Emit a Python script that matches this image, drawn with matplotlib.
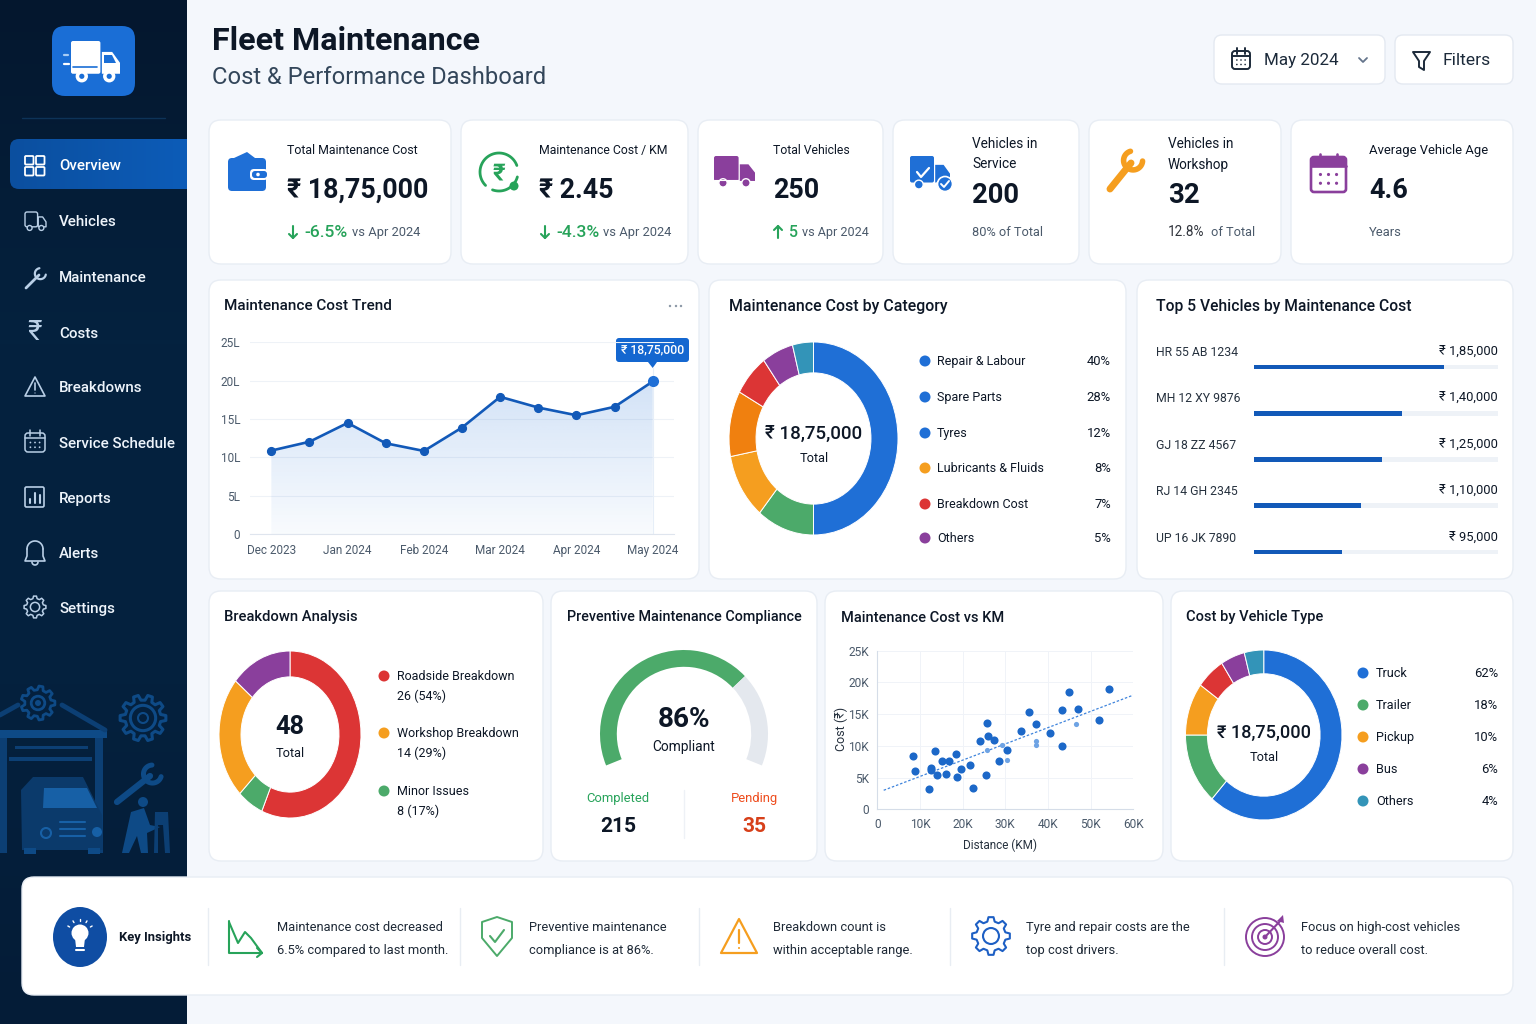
import numpy as np
import matplotlib
matplotlib.use('Agg')
import matplotlib.pyplot as plt
from matplotlib.colors import LinearSegmentedColormap
from matplotlib.patches import FancyBboxPatch, Circle, Polygon, Ellipse, Rectangle

plt.rcParams['font.family'] = ['Roboto', 'DejaVu Sans']

W, H = 1536, 1024

# colours
NAVY = '#04203d'
BLUE = '#1f6fd6'
DBLUE = '#1259b8'
GREEN = '#4caa6a'
LGREEN = '#27a35a'
ORANGE = '#f59e1f'
DORANGE = '#f0800f'
RED = '#dc3535'
PURPLE = '#8a3f9c'
TEAL = '#3394b8'
INK = '#0d1726'
GREY = '#4b5a6b'

# sidebar
menu_items = ['Overview', 'Vehicles', 'Maintenance', 'Costs', 'Breakdowns',
              'Service Schedule', 'Reports', 'Alerts', 'Settings']

# trend chart (lakh)
trend_values = [10.9, 12.05, 14.5, 11.85, 10.85, 13.9, 17.9, 16.5, 15.5, 16.6, 19.9]
trend_months = ['Dec 2023', 'Jan 2024', 'Feb 2024', 'Mar 2024', 'Apr 2024', 'May 2024']
trend_yticks = [0, 5, 10, 15, 20, 25]
trend_ylabels = ['0', '5L', '10L', '15L', '20L', '25L']

# category donut, the slices as drawn and the legend as printed
category_slices = [50, 11, 11, 11, 7, 6, 4]
category_names = ['Repair & Labour', 'Spare Parts', 'Tyres', 'Lubricants & Fluids', 'Breakdown Cost', 'Others']
category_pcts = ['40%', '28%', '12%', '8%', '7%', '5%']

# top 5 vehicles
top_names = ['HR 55 AB 1234', 'MH 12 XY 9876', 'GJ 18 ZZ 4567', 'RJ 14 GH 2345', 'UP 16 JK 7890']
top_labels = ['₹ 1,85,000', '₹ 1,40,000', '₹ 1,25,000', '₹ 1,10,000', '₹ 95,000']
top_bars = [185000, 144000, 124000, 104000, 85000]

# breakdown donut
breakdown_slices = [56.5, 6, 23.6, 13.9]
breakdown_names = ['Roadside Breakdown', 'Workshop Breakdown', 'Minor Issues']
breakdown_counts = ['26 (54%)', '14 (29%)', '8 (17%)']

# gauge, in degrees of sweep as drawn: done, pending, hidden part
gauge_sweep = [158.5, 65.5, 136]

# scatter (thousands)
km = [8.3, 8.75, 12.1, 12.6, 12.5, 13.5, 13.9, 15.1, 16.1, 16.7, 18.5, 18.6, 19.7, 21.8, 22.4, 24.0,
      25.5, 25.7, 25.9, 27.3, 28.6, 30.5, 33.6, 35.5, 37.2, 40.5, 43.2, 43.4, 44.9, 47.0, 52.0, 54.2]
cost = [8.4, 6.1, 3.15, 6.5, 6.15, 9.15, 5.45, 7.55, 5.6, 7.55, 8.7, 5.15, 6.4, 7.05, 3.3, 10.8,
        5.4, 13.6, 11.55, 10.9, 7.6, 9.3, 12.35, 15.4, 13.4, 12.0, 10.0, 15.6, 18.5, 15.85, 14.0, 18.9]
km_faded = [30.3, 37.3, 37.3, 46.6, 25.7, 29.2]
cost_faded = [7.8, 10.75, 10.2, 13.45, 9.35, 10.2]
fit_km = [1.5, 60]
fit_cost = [3, 18]

# vehicle type donut
type_slices = [61.5, 13.5, 10, 6, 5, 4]
type_names = ['Truck', 'Trailer', 'Pickup', 'Bus', 'Others']
type_pcts = ['62%', '18%', '10%', '6%', '4%']

# insights
insights = [('Maintenance cost decreased', '6.5% compared to last month.'),
            ('Preventive maintenance', 'compliance is at 86%.'),
            ('Breakdown count is', 'within acceptable range.'),
            ('Tyre and repair costs are the', 'top cost drivers.'),
            ('Focus on high-cost vehicles', 'to reduce overall cost.')]

fig = plt.figure(figsize=(W / 100, H / 100), dpi=100, facecolor='#f4f7fc')
bg = fig.add_axes([0, 0, 1, 1], zorder=0)
bg.axis('off')


def T(x, y, s, px=14, c=INK, w='normal', ha='left', **kw):
    return bg.text(x, y + 1.5, s, fontsize=px * 0.72, color=c, fontweight=w, ha=ha, va='center', **kw)


def RR(x0, y0, x1, y1, r=10, fc='white', ec='none', lw=1.0, z=1):
    p = FancyBboxPatch((x0, y0), x1 - x0, y1 - y0, boxstyle=f'round,pad=0,rounding_size={r}',
                       fc=fc, ec=ec, lw=lw, zorder=z)
    bg.add_patch(p)
    return p


def L(xs, ys, c, lw=1.5, z=3):
    bg.plot(xs, ys, color=c, lw=lw, solid_capstyle='round', solid_joinstyle='round', zorder=z)


def P(pts, fc='none', ec='none', lw=1.0, z=3):
    bg.add_patch(Polygon(pts, closed=True, fc=fc, ec=ec, lw=lw, zorder=z, joinstyle='round'))


def C(x, y, r, fc='none', ec='none', lw=1.0, z=3):
    bg.add_patch(Circle((x, y), r, fc=fc, ec=ec, lw=lw, zorder=z))


def arc(cx, cy, r, a0, a1, c, lw=1.5, z=3):
    t = np.radians(np.linspace(a0, a1, 40))
    L(cx + r * np.cos(t), cy - r * np.sin(t), c, lw, z)


def gear(cx, cy, r, teeth, c, lw=1.3, hole=0.45, fc='none', z=3):
    pts = []
    step = 2 * np.pi / teeth
    for i in range(teeth):
        a = i * step
        for da, rr in [(-0.32, 0.78), (-0.17, 1.0), (0.17, 1.0), (0.32, 0.78)]:
            pts.append((cx + r * rr * np.cos(a + da * step), cy + r * rr * np.sin(a + da * step)))
    P(pts, fc=fc, ec=c, lw=lw, z=z)
    C(cx, cy, r * hole, ec=c, lw=lw, z=z)


def truck(x, y, w, h, fc='none', ec='none', lw=1.0, wheel='white', z=3):
    RR(x, y, x + 0.6 * w, y + 0.78 * h, r=2, fc=fc, ec=ec, lw=lw, z=z)
    P([(x + 0.63 * w, y + 0.26 * h), (x + 0.84 * w, y + 0.26 * h), (x + w, y + 0.52 * h),
       (x + w, y + 0.78 * h), (x + 0.63 * w, y + 0.78 * h)], fc=fc, ec=ec, lw=lw, z=z)
    for wx in (0.22, 0.78):
        C(x + wx * w, y + 0.84 * h, 0.13 * h, fc=wheel, ec='white' if ec == 'none' else ec, lw=max(lw, 1.0), z=z + 1)


def calendar(x0, y0, x1, y1, c, lw=1.3):
    RR(x0, y0, x1, y1, r=3, fc='none', ec=c, lw=lw, z=3)
    head = y0 + (y1 - y0) * 0.27
    L([x0, x1], [head, head], c, lw)
    w = x1 - x0
    for f in (0.27, 0.73):
        L([x0 + f * w] * 2, [y0 - 3, y0 + 3], c, lw)
    for fy in (0.5, 0.75):
        for fx in (0.27, 0.5, 0.73):
            C(x0 + fx * w, y0 + fy * (y1 - y0), w * 0.045, fc=c, z=3)


def wrench(x0, y0, x1, y1, c, lw, head_r, z=3):
    L([x0, x1], [y0, y1], c, lw, z)
    a = np.degrees(np.arctan2(y0 - y1, x1 - x0))
    arc(x1 + 0.35 * head_r * np.cos(np.radians(a)), y1 - 0.35 * head_r * np.sin(np.radians(a)),
        head_r, a + 55, a + 305, c, lw * 0.8, z)


def axbox(x0, y0, x1, y1):
    ax = fig.add_axes([x0 / W, 1 - y1 / H, (x1 - x0) / W, (y1 - y0) / H], zorder=2)
    ax.patch.set_alpha(0)
    return ax


def donut(x0, y0, x1, y1, vals, colors, ring, edge='white'):
    ax = axbox(x0, y0, x1, y1)
    ax.pie(vals, colors=colors, startangle=90, counterclock=False, radius=1,
           wedgeprops=dict(width=ring, edgecolor=edge, linewidth=0.7))
    ax.set_aspect('auto')
    ax.set_xlim(-1, 1)
    ax.set_ylim(-1, 1)
    return ax


# ---- sidebar ----
grad = np.linspace(0, 1, 256).reshape(-1, 1)
bg.imshow(grad, extent=[0, 187, 1024, 0], aspect='auto', zorder=0.5,
          cmap=LinearSegmentedColormap.from_list('side', ['#04172e', '#04223f', '#04213e', '#041c37']))
L([22, 165], [118, 118], '#0d3358', 1.0)

RR(52, 26, 135, 96, r=13, fc='#1a6ed6', z=2)
truck(71, 41, 49, 42, fc='white', wheel='white')
C(81.8, 76.3, 2.6, fc='#1a6ed6', z=6)
C(109.2, 76.3, 2.6, fc='#1a6ed6', z=6)
L([73, 97], [67, 67], '#1a6ed6', 1.2, 5)
L([64, 68], [55, 55], '#a8ccf4', 1.6)
L([64, 69], [64, 64], 'white', 1.6)
P([(104, 55), (112, 55), (116, 63), (104, 63)], fc='#1a6ed6', z=5)

clip = RR(10, 139, 215, 189, r=9, fc='none', z=0.6)
im = bg.imshow(np.linspace(0, 1, 256).reshape(1, -1), extent=[10, 187, 189, 139], aspect='auto', zorder=0.8,
               cmap=LinearSegmentedColormap.from_list('act', ['#0b4f9f', '#0d5cb8']))
im.set_clip_path(clip)
for ix, iy in [(25, 156), (36, 156), (25, 167), (36, 167)]:
    RR(ix, iy, ix + 8.5, iy + 8.5, r=1, fc='none', ec='white', lw=1.3, z=3)

menu_y = [165, 221, 277, 332, 387, 442, 497, 552, 607]
for name, y in zip(menu_items, menu_y):
    T(59, y, name, 15.1, '#eef4fb' if name != 'Overview' else 'white', 'medium')
ICON = '#b9cfe6'
truck(25, 212, 21, 19, ec=ICON, lw=1.0, wheel=NAVY)
wrench(26, 288, 39, 275, ICON, 2.0, 5.5)
T(35, 331, '₹', 28, ICON, ha='center')
P([(35, 377), (45, 396), (25, 396)], ec=ICON, lw=1.2)
L([35, 35], [383, 390], ICON, 1.2)
C(35, 393, 0.6, fc=ICON)
calendar(25, 433, 45, 452, ICON, 1.1)
RR(25, 487, 44, 507, r=1.5, fc='none', ec=ICON, lw=1.2, z=3)
for bx, b0 in [(30, 499), (35, 493), (40, 495)]:
    L([bx, bx], [b0, 503], ICON, 1.5)
arc(35, 549, 8, 0, 180, ICON, 1.2)
L([27, 27, 25, 45, 43, 43], [549, 556, 561, 561, 556, 549], ICON, 1.2)
arc(35, 562, 3, 180, 360, ICON, 1.2)
gear(35, 607, 11, 8, ICON, 1.1, 0.42)

# garage illustration
ILL = '#0e4a86'
ILL2 = '#0c3f74'
ILL3 = '#1760a6'
L([0, 18], [715, 705], ILL2, 3.5)
L([62, 105], [705, 730], ILL2, 3.5)
bg.add_patch(Rectangle((0, 730), 107, 8, fc=ILL, zorder=2))
bg.add_patch(Rectangle((95, 738), 8, 115, fc=ILL2, zorder=2))
bg.add_patch(Rectangle((0, 738), 7, 115, fc=ILL2, zorder=2))
bg.add_patch(Rectangle((15, 746), 73, 3, fc=ILL2, zorder=2))
bg.add_patch(Rectangle((9, 757), 83, 4, fc=ILL2, zorder=2))
gear(38, 703, 17, 9, ILL, 2.0, 0.4, fc=NAVY)
C(38, 703, 3, fc=ILL)
gear(143, 718, 23, 10, ILL, 2.2, 0.55)
C(143, 718, 5, ec=ILL, lw=1.5)
P([(33, 777), (83, 777), (102, 815), (103, 850), (22, 850), (21, 790)], fc='#0b3a6b', z=3)
P([(44, 788), (87, 788), (97, 808), (43, 808)], fc=ILL3, z=4)
for gy in (822, 829, 836):
    L([60, 85], [gy, gy], ILL3, 1.5, 4)
C(46, 833, 5, ec=ILL3, lw=1.5, z=4)
C(97, 832, 5, fc=ILL3, z=4)
bg.add_patch(Rectangle((24, 848), 12, 6, fc=ILL, zorder=4))
bg.add_patch(Rectangle((88, 848), 12, 6, fc=ILL, zorder=4))
wrench(117, 802, 150, 776, ILL, 4.5, 9)
C(143, 802, 5, fc=ILL)
P([(131, 812), (144, 808), (150, 825), (160, 827), (147, 833), (148, 853), (141, 853), (137, 836), (129, 853),
   (122, 853)], fc=ILL)
P([(155, 812), (168, 812), (170, 853), (165, 853), (163, 825), (158, 825), (158, 853), (154, 853)], fc=ILL2)

# ---- header ----
T(212, 39, 'Fleet Maintenance', 32.3, INK, 'bold')
T(212, 76, 'Cost & Performance Dashboard', 23.7, '#33465a')
RR(1214, 35, 1385, 84, r=8, ec='#e4e9f1')
RR(1395, 35, 1513, 84, r=8, ec='#e4e9f1')
calendar(1232, 51, 1250, 69, '#1c2a3a', 1.4)
T(1264, 59, 'May 2024', 17, '#1c2a3a')
L([1359, 1363, 1367], [58, 62, 58], '#64748b', 1.3)
P([(1413, 52), (1430, 52), (1424, 61), (1424, 70), (1419, 67), (1419, 61)], ec='#1c2a3a', lw=1.4)
T(1443, 59, 'Filters', 17.5, '#1c2a3a')

# ---- cards ----
cards = [(209, 120, 451, 264), (461, 120, 688, 264), (698, 120, 883, 264), (893, 120, 1079, 264),
         (1089, 120, 1281, 264), (1291, 120, 1513, 264), (209, 280, 699, 579), (709, 280, 1126, 579),
         (1137, 280, 1513, 579), (209, 591, 543, 861), (551, 591, 817, 861), (825, 591, 1163, 861),
         (1171, 591, 1513, 861), (22, 877, 1513, 995)]
for c in cards:
    RR(*c, r=12, ec='#e8edf4', lw=1.0)


# ---- kpi ----
def arrow(x, y0, y1, c=LGREEN):
    L([x, x], [y0, y1], c, 1.5)
    d = 4 if y1 > y0 else -4
    L([x - 4, x, x + 4], [y1 - d, y1, y1 - d], c, 1.5)


T(287, 149, 'Total Maintenance Cost', 12.4)
T(287, 189, '₹ 18,75,000', 26.8, INK, 'bold')
arrow(293, 226, 238)
T(304, 231, '-6.5%', 17.5, LGREEN, 'medium')
T(352, 231, 'vs Apr 2024', 12.9, GREY)
RR(228, 158, 266, 191, r=4, fc=BLUE)
P([(234, 158), (247, 152), (255, 158)], fc=BLUE)
RR(250, 169, 268, 180, r=4, fc='white')
RR(252, 171, 267, 178, r=3, fc=BLUE, z=4)
C(258, 174.5, 1.8, fc='white', z=5)

T(539, 149, 'Maintenance Cost / KM', 12.2)
T(539, 189, '₹ 2.45', 26.8, INK, 'bold')
arrow(545, 226, 238)
T(556, 231, '-4.3%', 17.5, LGREEN, 'medium')
T(603, 231, 'vs Apr 2024', 12.9, GREY)
arc(499, 172, 19, 20, 225, LGREEN, 2.0)
arc(499, 172, 19, 250, 345, LGREEN, 2.0)
T(499, 171, '₹', 24, LGREEN, 'bold', ha='center')
C(514, 186, 4.5, fc=LGREEN)

T(773, 149, 'Total Vehicles', 12.2)
T(773, 189, '250', 27, INK, 'bold')
arrow(778, 238, 226)
T(789, 231, '5', 16, LGREEN, 'medium')
T(802, 231, 'vs Apr 2024', 12.6, GREY)
truck(714, 156, 41, 32, fc=PURPLE, wheel=PURPLE)
L([714, 738], [180, 180], 'white', 0.8, 5)

T(972, 143, 'Vehicles in', 13.6)
T(972, 163, 'Service', 13.6)
T(972, 194, '200', 27.5, INK, 'bold')
T(972, 231, '80% of Total', 12.8, GREY)
truck(910, 156, 40, 34, fc=BLUE, wheel=BLUE)
L([917, 921, 929], [172, 177, 168], 'white', 1.6, 5)
C(945, 184, 7.5, fc=BLUE, ec='white', lw=1.2, z=5)
L([941, 944, 949], [184, 187, 181], 'white', 1.4, 6)

T(1168, 143, 'Vehicles in', 13.6)
T(1168, 163, 'Workshop', 13.6)
T(1168, 194, '32', 27.5, INK, 'bold')
T(1168, 231, '12.8%', 13.5, '#30343c')
T(1211, 231, 'of Total', 12.8, GREY)
wrench(1110, 189, 1131, 163, ORANGE, 5.0, 9.5)

T(1369, 149, 'Average Vehicle Age', 13)
T(1369, 189, '4.6', 27, INK, 'bold')
T(1369, 231, 'Years', 13, GREY)
calendar(1311, 157, 1346, 192, PURPLE, 1.9)
bg.add_patch(Rectangle((1311, 157), 35, 9, fc=PURPLE, zorder=3))

# ---- trend ----
T(224, 305, 'Maintenance Cost Trend', 15.2, INK, 'medium')
for dx in (670, 676, 681):
    C(dx, 306, 1.2, fc='#8b97a6')
ax = axbox(250, 342.3, 673.7, 534.3)
x_idx = np.arange(len(trend_values))
ax.set_xlim(-0.56, 10.55)
ax.set_ylim(0, 25)
poly = ax.fill_between(x_idx, trend_values, 0, facecolor='none', edgecolor='none')
shade = np.zeros((256, 2, 4))
shade[..., :3] = matplotlib.colors.to_rgb(BLUE)
shade[..., 3] = np.linspace(0.2, 0.03, 256).reshape(-1, 1)
grad_im = ax.imshow(shade, extent=[x_idx[0], x_idx[-1], 0, 20], aspect='auto', zorder=1)
grad_im.set_clip_path(poly.get_paths()[0], ax.transData)
ax.set_xlim(-0.56, 10.55)
ax.set_ylim(0, 25)
ax.plot(x_idx, trend_values, color=DBLUE, lw=1.9, marker='o', ms=5.6, mec=DBLUE, zorder=4, clip_on=False)
ax.plot(x_idx[-1], trend_values[-1], marker='o', ms=7, color=BLUE, zorder=5, clip_on=False)
ax.axvline(x_idx[-1], color='#e6eef8', lw=0.8, zorder=1, ymax=0.87)
ax.set_yticks(trend_yticks, trend_ylabels)
ax.set_xticks(x_idx[::2], trend_months)
ax.grid(axis='y', color='#eef2f7', lw=0.8)
ax.set_axisbelow(True)
ax.tick_params(length=0, labelsize=8.5, labelcolor=GREY, pad=7)
for s in ax.spines.values():
    s.set_visible(False)
ax.spines['bottom'].set_visible(True)
ax.spines['bottom'].set_color('#dfe5ee')
RR(616, 338, 689, 362, r=3, fc='#1467d0', z=4)
P([(648, 362), (657, 362), (652.7, 368)], fc='#1467d0', z=4)
T(652.5, 348.5, '₹ 18,75,000', 12.2, 'white', 'medium', ha='center', zorder=5)

# ---- category ----
T(729, 305, 'Maintenance Cost by Category', 15.9, INK, 'medium')
donut(729, 342, 898, 535, category_slices, [BLUE, GREEN, ORANGE, DORANGE, RED, PURPLE, TEAL], 0.32)
T(813.5, 432, '₹ 18,75,000', 18.8, INK, 'medium', ha='center')
T(814, 457, 'Total', 12.8, INK, ha='center')
cat_colors = [BLUE, BLUE, BLUE, ORANGE, RED, PURPLE]
for name, pct, col, y in zip(category_names, category_pcts, cat_colors, [361, 397, 433, 468, 504, 538]):
    C(925, y, 5.5, fc=col)
    T(937, y - 1, name, 12.5)
    T(1111, y - 1, pct, 13, ha='right')

# ---- top 5 ----
T(1156, 305, 'Top 5 Vehicles by Maintenance Cost', 15.6, INK, 'medium')
for name, lab, y in zip(top_names, top_labels, [352, 398, 445, 491, 538]):
    T(1156, y - 1, name, 12.2, '#27323f')
    T(1498, y - 1, lab, 13, INK, ha='right')
ax = axbox(1254, 344, 1498, 575)
rows = np.arange(len(top_bars))
ax.barh(rows, [237000] * len(rows), height=0.1, color='#eef2f7')
ax.barh(rows, top_bars, height=0.1, color=DBLUE)
ax.set_xlim(0, 237000)
ax.set_ylim(4.5, -0.5)
ax.axis('off')

# ---- breakdown ----
T(224, 616, 'Breakdown Analysis', 14.7, INK, 'medium')
donut(219, 651, 361, 818, breakdown_slices, [RED, GREEN, ORANGE, PURPLE], 0.31)
T(290, 725, '48', 25.5, INK, 'bold', ha='center')
T(290, 752, 'Total', 12.8, INK, ha='center')
for name, cnt, col, y in zip(breakdown_names, breakdown_counts, [RED, ORANGE, GREEN], [676, 733, 791]):
    C(384, y, 5.5, fc=col)
    T(397, y - 1, name, 12.5)
    T(397, y + 18.5, cnt, 12.5)

# ---- gauge ----
T(567, 616, 'Preventive Maintenance Compliance', 14.4, INK, 'medium')
ax = axbox(600, 650, 768, 818)
ax.pie(gauge_sweep, colors=[GREEN, '#e4e8ee', 'none'], startangle=202, counterclock=False, radius=1,
       wedgeprops=dict(width=0.2))
ax.set_xlim(-1, 1)
ax.set_ylim(-1, 1)
T(684, 718, '86%', 28, INK, 'bold', ha='center')
T(684, 746, 'Compliant', 13.7, INK, ha='center')
T(618, 797, 'Completed', 13, LGREEN, ha='center')
T(618, 825, '215', 21, INK, 'bold', ha='center')
T(754, 797, 'Pending', 13, '#ee4b1c', ha='center')
T(754, 825, '35', 21, '#d7401a', 'bold', ha='center')
L([684, 684], [790, 838], '#eef1f6', 1.0)

# ---- scatter ----
T(841, 616, 'Maintenance Cost vs KM', 14.6, INK, 'medium')
ax = axbox(877.3, 650.7, 1133.3, 809.3)
ax.set_xlim(0, 60)
ax.set_ylim(0, 25)
ax.scatter(km, cost, s=34, color='#1c68c8', zorder=3, linewidths=0)
ax.scatter(km_faded, cost_faded, s=14, color='#6ea3e4', zorder=3, linewidths=0)
ax.plot(fit_km, fit_cost, color='#3f84dc', lw=0.9, ls=(0, (2, 1.5)), zorder=2)
ax.set_xticks(range(0, 61, 10), ['0', '10K', '20K', '30K', '40K', '50K', '60K'])
ax.set_yticks(range(0, 26, 5), ['0', '5K', '10K', '15K', '20K', '25K'])
ax.grid(color='#f0f3f8', lw=0.7)
ax.set_axisbelow(True)
ax.tick_params(length=0, labelsize=8.6, labelcolor=GREY, pad=6)
for s in ['top', 'right']:
    ax.spines[s].set_visible(False)
for s in ['left', 'bottom']:
    ax.spines[s].set_color('#d5dde8')
T(841, 727, 'Cost (₹)', 12.5, '#27323f', ha='center', rotation=90)
T(1000, 844, 'Distance (KM)', 11.8, '#27323f', ha='center')

# ---- vehicle type ----
T(1186, 616, 'Cost by Vehicle Type', 14.6, INK, 'medium')
donut(1185.5, 650, 1342, 820, type_slices, [BLUE, GREEN, ORANGE, RED, PURPLE, TEAL], 0.28)
T(1264, 731, '₹ 18,75,000', 18.2, INK, 'medium', ha='center')
T(1264, 756, 'Total', 12.8, INK, ha='center')
for name, pct, col, y in zip(type_names, type_pcts, [BLUE, GREEN, ORANGE, PURPLE, TEAL], [673, 705, 737, 769, 801]):
    C(1363, y, 5.5, fc=col)
    T(1376, y - 1, name, 12.6)
    T(1498, y - 1, pct, 13, ha='right')

# ---- insights ----
bg.add_patch(Ellipse((80, 937), 54, 60, fc='#0f4da3', zorder=3))
C(80, 933, 8.5, fc='white', z=4)
P([(75, 938), (85, 938), (84, 947), (76, 947)], fc='white', z=4)
L([76, 84], [950, 950], 'white', 1.5, 4)
for a in (30, 60, 90, 120, 150):
    t = np.radians(a)
    L([80 + 12 * np.cos(t), 80 + 14 * np.cos(t)], [933 - 12 * np.sin(t), 933 - 14 * np.sin(t)], 'white', 1.0, 4)
T(119, 936, 'Key Insights', 13, INK, 'bold')
for dx in (208, 460, 699, 950, 1224):
    L([dx, dx], [908, 965], '#e8edf3', 1.0)
for (a, b), x in zip(insights, [277, 529, 773, 1026, 1301]):
    T(x, 926, a, 12.9, '#1f2a37')
    T(x, 949, b, 12.9, '#1f2a37')
L([229, 229, 262], [921, 953, 953], LGREEN, 1.5)
L([229, 238, 245, 251, 262], [922, 943, 932, 938, 953], LGREEN, 1.5)
L([257, 262, 257], [948, 953, 957], LGREEN, 1.5)
P([(497, 917), (512, 922), (512, 938), (497, 956), (482, 938), (482, 922)], ec=GREEN, lw=1.4)
L([490, 495, 504], [936, 942, 930], GREEN, 1.5)
P([(739, 919), (757, 953), (721, 953)], ec=ORANGE, lw=1.6)
L([739, 739], [930, 943], ORANGE, 1.6)
C(739, 948, 1, fc=ORANGE)
gear(991, 936, 19, 8, '#1d5fc4', 1.5, 0.42)
for r in (19, 13, 7):
    C(1265, 937, r, ec=PURPLE, lw=1.4)
C(1265, 937, 2.5, fc=PURPLE)
L([1265, 1282], [937, 919], PURPLE, 1.5)
P([(1277, 921), (1283, 915), (1284, 923)], fc=PURPLE)

bg.set_xlim(0, W)
bg.set_ylim(H, 0)
fig.savefig('out.png', dpi=100, facecolor=fig.get_facecolor())
